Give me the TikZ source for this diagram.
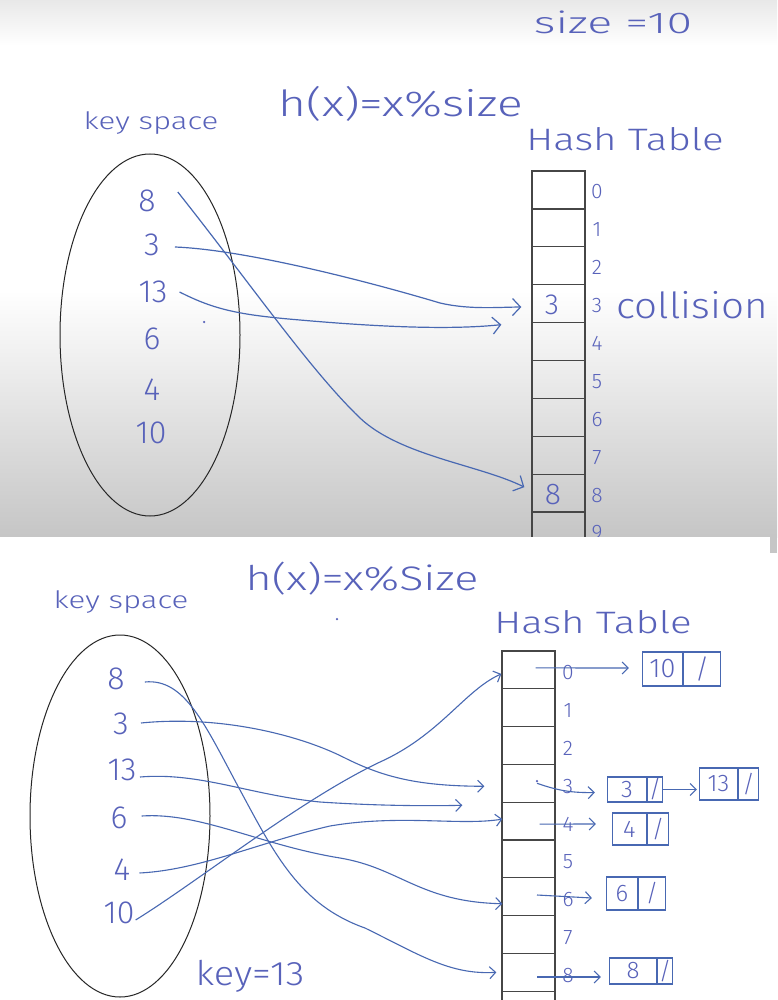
\documentclass[tikz,border=0pt]{standalone}
\usepackage{fontspec}
\setmainfont{Fira Sans Light}
\usetikzlibrary{arrows.meta,shapes.geometric,shapes.multipart}
\definecolor{ink}{RGB}{88,98,186}
\definecolor{pen}{RGB}{72,104,178}
\definecolor{rulec}{RGB}{70,70,70}
\newcommand{\hw}[1]{\fontsize{#1}{#1}\selectfont}
\newcommand{\wide}[2]{\scalebox{#1}[1]{#2}}
\begin{document}
\begin{tikzpicture}[x=1pt,y=-1pt,
  txt/.style={text=ink, inner sep=0pt},
  idx/.style={text=ink, inner sep=0pt, font=\hw{21}},
  key/.style={text=ink, inner sep=0pt, font=\hw{32}},
  cell/.style={draw=rulec, line width=1.3pt, minimum width=53pt, minimum height=37.9pt, inner sep=0pt},
  cellB/.style={cell, minimum height=37.8pt},
  oval/.style={draw=black!85, line width=1pt, ellipse, minimum width=180pt, minimum height=362pt, inner sep=0pt},
  linkA/.style={draw=pen, line width=1.2pt, -{Straight Barb[length=8pt,width=17pt]}},
  linkB/.style={draw=pen, line width=1.1pt, -{Straight Barb[length=6pt,width=12pt]}},
  chainbox/.style={rectangle split, rectangle split horizontal, rectangle split parts=2, draw=pen, line width=1.1pt, text=ink, inner xsep=3pt, inner ysep=0pt, font=\hw{24}},
  dot/.style={circle, fill=ink, inner sep=0pt, minimum size=2.5pt}
]
\useasboundingbox (0,0) rectangle (777,1000);
\clip (0,0) rectangle (777,1000);
% ---------- backgrounds (top panel) ----------
\fill[white] (0,0) rectangle (777,1000);
\shade[top color=gray!18, bottom color=white] (0,0) rectangle (777,45);
\shade[top color=white, bottom color=gray!45] (0,290) rectangle (777,537);
\fill[gray!45] (770,537) rectangle (777,553);

% ---------- top panel ----------
\node[txt, font=\hw{30}, anchor=base] (sz) at (613,34) {\wide{1.55}{size =10}};
\node[txt, font=\hw{36}, anchor=base] (hA) at (401,117) {\wide{1.33}{h(x)=x\%size}};
\node[txt, font=\hw{24}, anchor=base] (keyA) at (151,130) {\wide{1.3}{key space}};
\node[txt, font=\hw{31}, anchor=base] (htA) at (625,151) {\wide{1.3}{Hash Table}};
\node[txt, font=\hw{36}, anchor=base] (col) at (692,318) {\wide{1.12}{collision}};

\node[oval] (esA) at (150,335) {};
\foreach \i in {0,...,9} {
  \node[cell] (ta\i) at (558.5,{171+37.9*\i+18.95}) {};
  \node[idx] (ia\i) at (597,{171+37.9*\i+20.95}) {\i};
}
\node[key, font=\hw{29}] (va3) at (552,305) {3};
\node[key, font=\hw{30}] (va8) at (553,495) {8};

\node[key] (ka8) at (147,201) {8};
\node[key] (ka3) at (152,245) {3};
\node[key] (ka13) at (153,292) {13};
\node[key] (ka6) at (152,339) {6};
\node[key] (ka4) at (152,390) {4};
\node[key] (ka10) at (151,433) {10};
\node[dot] (dA) at (204,322) {};

\draw[linkA] ([xshift=22pt,yshift=9pt]ka8.east) .. controls (250,283) and (310,370) .. (360,418) .. controls (400,456) and (480,465) .. ([xshift=-7pt,yshift=6pt]ta8.west);
\draw[linkA] ([xshift=15pt,yshift=-2pt]ka3.east) .. controls (250,250) and (380,285) .. (440,303) .. controls (470,310) and (500,307) .. ([xshift=-10pt,yshift=-3.4pt]ta3.west);
\draw[linkA] ([xshift=12pt]ka13.east) .. controls (215,310) and (240,315) .. (300,320) .. controls (380,327) and (450,330) .. ([xshift=-30pt,yshift=-21pt]ta3.west);

% ---------- bottom panel ----------
\fill[white] (0,537) rectangle (770,1000);
\fill[white] (770,553) rectangle (777,1000);

\node[txt, font=\hw{34}, anchor=base] (hB) at (362,590) {\wide{1.32}{h(x)=x\%Size}};
\node[txt, font=\hw{24}, anchor=base] (keyB) at (121,608) {\wide{1.3}{key space}};
\node[txt, font=\hw{31}, anchor=base] (htB) at (593,633) {\wide{1.3}{Hash Table}};
\node[txt, font=\hw{34}, anchor=base] (keq) at (250,985) {\wide{1.12}{key=13}};
\node[dot] (dB) at (337,619) {};

\node[oval] (esB) at (120,816) {};
\foreach \i in {0,...,9} {
  \node[cellB] (tb\i) at (528.5,{651+37.8*\i+18.9}) {};
}
\foreach \i in {0,...,8} {
  \node[idx] (ib\i) at (568,{651+37.8*\i+21.9}) {\i};
}

\node[key] (kb8) at (116,679) {8};
\node[key] (kb3) at (121,724) {3};
\node[key] (kb13) at (122,770) {13};
\node[key] (kb6) at (119,818) {6};
\node[key] (kb4) at (122,870) {4};
\node[key] (kb10) at (119,913) {10};

\draw[linkB] ([xshift=20pt,yshift=-3pt]kb8.east) .. controls (185,678) and (205,725) .. (240,790) .. controls (275,855) and (300,905) .. (365,928) .. controls (420,955) and (450,975) .. ([xshift=-5pt]tb8.west);
\draw[linkB] ([xshift=12pt,yshift=1pt]kb3.east) .. controls (220,715) and (300,735) .. (345,758) .. controls (385,778) and (420,786) .. ([xshift=-17pt,yshift=-3pt]tb3.west);
\draw[linkB] ([xshift=3.4pt,yshift=-7pt]kb13.east) .. controls (200,772) and (250,795) .. (320,802) .. controls (380,806) and (430,806) .. ([xshift=-39pt,yshift=-22pt]tb3.west);
\draw[linkB] ([xshift=14pt,yshift=2pt]kb6.east) .. controls (200,812) and (260,845) .. (340,858) .. controls (400,868) and (420,902) .. ([xshift=1pt,yshift=-7pt]tb6.west);
\draw[linkB] ([xshift=9pt,yshift=-3pt]kb4.east) .. controls (200,870) and (260,842) .. (330,826) .. controls (400,814) and (460,826) .. ([xshift=1pt,yshift=2pt]tb4.west);
\draw[linkB] ([xshift=1pt,yshift=-7pt]kb10.east) .. controls (200,880) and (300,800) .. (380,762) .. controls (440,735) and (465,690) .. ([yshift=-4pt]tb0.west);

% chains
\node[chainbox, minimum height=34pt, font=\hw{27}] (c10) at (681.5,669) {\makebox[34pt]{10}\nodepart{two}\makebox[31pt]{/}};
\node[chainbox, minimum height=25pt] (c3) at (635,789.5) {\makebox[33pt]{3}\nodepart{two}\makebox[9pt]{/}};
\node[chainbox, minimum height=32pt] (c13) at (729,784) {\makebox[32pt]{13}\nodepart{two}\makebox[14pt]{/}};
\node[chainbox, minimum height=32pt] (c4) at (640.5,829) {\makebox[28pt]{4}\nodepart{two}\makebox[15pt]{/}};
\node[chainbox, minimum height=33pt] (c6) at (636,893.5) {\makebox[25pt]{6}\nodepart{two}\makebox[21pt]{/}};
\node[chainbox, minimum height=26pt] (c8) at (641,971) {\makebox[41pt]{8}\nodepart{two}\makebox[9pt]{/}};
\node[dot] (dC) at (537,781) {};

\draw[linkB] ([xshift=7pt,yshift=2pt]tb0.center) -- ([xshift=-13pt,yshift=1pt]c10.west);
\draw[linkB] ([xshift=8.5pt]tb3.center) to[bend right=10] ([xshift=-12pt,yshift=-3pt]c3.west);
\draw[linkB] (c3.east) -- ([xshift=-2pt,yshift=-5.5pt]c13.west);
\draw[linkB] ([xshift=11pt,yshift=-3pt]tb4.center) -- ([xshift=-16pt,yshift=5pt]c4.west);
\draw[linkB] ([xshift=8.5pt,yshift=1.7pt]tb6.center) -- ([xshift=-14pt,yshift=-4.5pt]c6.west);
\draw[linkB] ([xshift=8.5pt,yshift=-4.7pt]tb8.center) -- ([xshift=-8pt,yshift=-6pt]c8.west);
\end{tikzpicture}
\end{document}
